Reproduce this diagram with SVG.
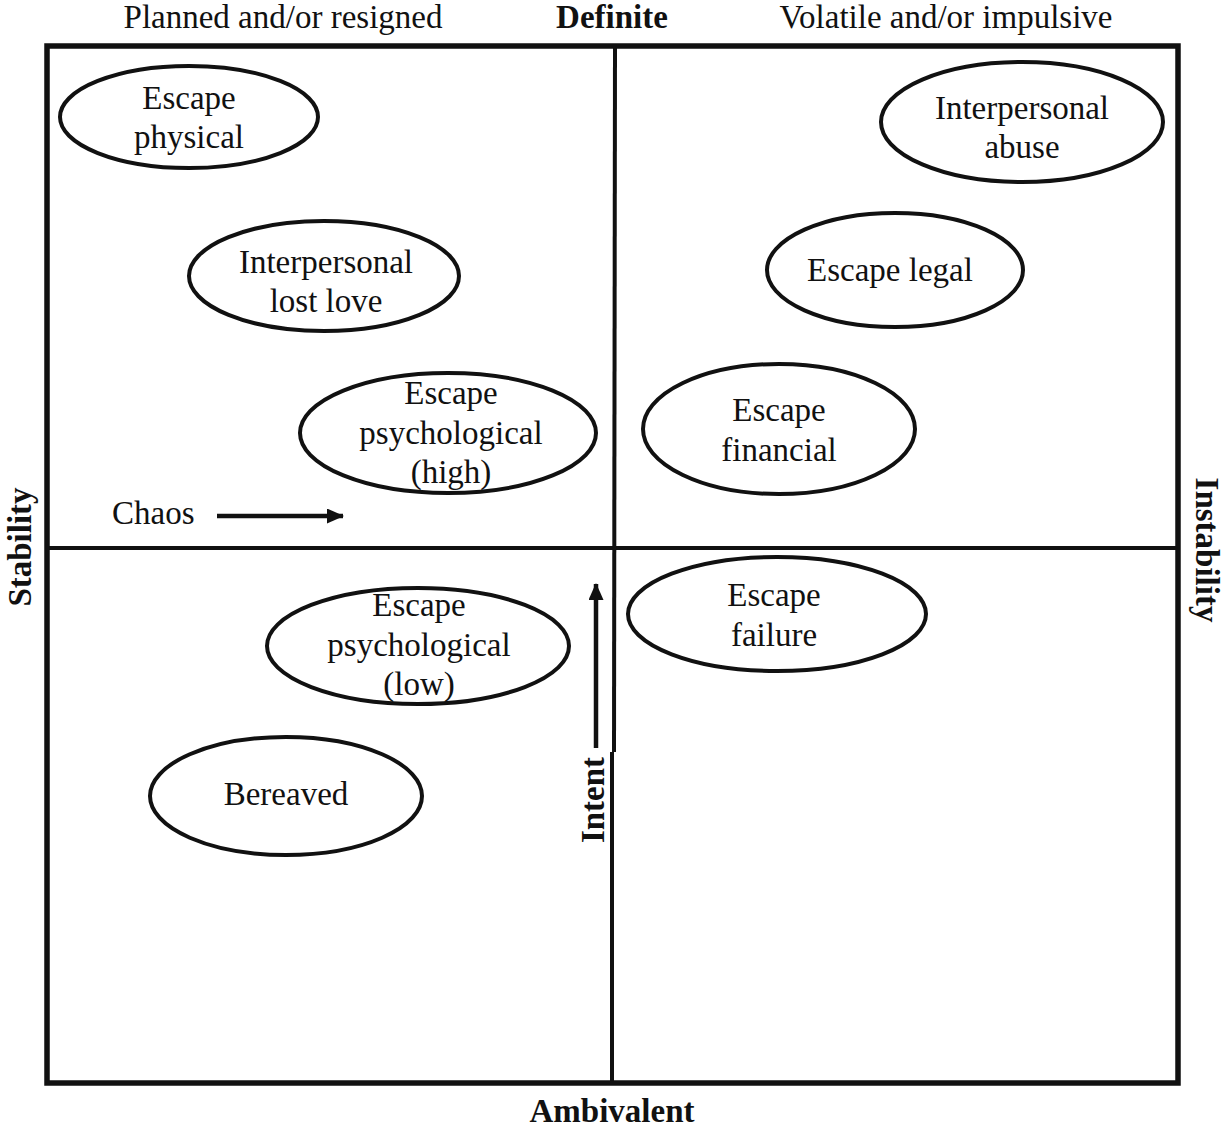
<svg xmlns="http://www.w3.org/2000/svg" width="1225" height="1130" viewBox="0 0 1225 1130">
<style>
text{font-family:"Liberation Serif","Times New Roman",serif;font-size:33px;fill:#111;}
.b{font-weight:bold;}
.n{fill:#fff;stroke:#111;stroke-width:4;}
.ax{stroke:#111;stroke-width:4;fill:none;}
</style>
<defs>
<marker id="ah2" markerWidth="17" markerHeight="15" refX="16" refY="7.5" orient="auto" markerUnits="userSpaceOnUse" viewBox="0 0 17 15">
<path d="M0,0 L17,7.5 L0,15 Z" fill="#111"/>
</marker>
</defs>
<rect width="1225" height="1130" fill="#fff"/>
<g id="frame">
<rect x="47" y="46" width="1131" height="1037" fill="none" stroke="#111" stroke-width="5.5"/>
<line x1="47" y1="548" x2="1178" y2="548" class="ax"/>
<line x1="615" y1="46" x2="614" y2="752" class="ax"/>
<line x1="612" y1="752" x2="612" y2="1083" class="ax"/>
</g>
<g id="labels">
<text x="283" y="28" text-anchor="middle">Planned and/or resigned</text>
<text x="612" y="28" text-anchor="middle" class="b">Definite</text>
<text x="946" y="28" text-anchor="middle">Volatile and/or impulsive</text>
<text x="612" y="1122" text-anchor="middle" class="b">Ambivalent</text>
<text transform="translate(31,547) rotate(-90)" text-anchor="middle" class="b">Stability</text>
<text transform="translate(1196,550) rotate(90)" text-anchor="middle" class="b">Instability</text>
<text transform="translate(604,800) rotate(-90)" text-anchor="middle" class="b">Intent</text>
<text x="112" y="524">Chaos</text>
</g>
<g id="connectors">
<line x1="217" y1="516" x2="343" y2="516" stroke="#111" stroke-width="4.5" marker-end="url(#ah2)"/>
<line x1="596" y1="748" x2="596" y2="584" stroke="#111" stroke-width="4.5" marker-end="url(#ah2)"/>
</g>
<g id="escape-physical"><ellipse class="n" cx="189" cy="117" rx="129" ry="51"/><text x="189" y="109" text-anchor="middle">Escape</text><text x="189" y="148" text-anchor="middle">physical</text></g>
<g id="interpersonal-abuse"><ellipse class="n" cx="1022" cy="122" rx="141" ry="60"/><text x="1022" y="119" text-anchor="middle">Interpersonal</text><text x="1022" y="158" text-anchor="middle">abuse</text></g>
<g id="interpersonal-lost-love"><ellipse class="n" cx="324" cy="276" rx="135" ry="55"/><text x="326" y="273" text-anchor="middle">Interpersonal</text><text x="326" y="312" text-anchor="middle">lost love</text></g>
<g id="escape-legal"><ellipse class="n" cx="895" cy="270" rx="128" ry="57"/><text x="890" y="281" text-anchor="middle">Escape legal</text></g>
<g id="escape-psych-high"><ellipse class="n" cx="448" cy="433" rx="148" ry="60"/><text x="451" y="404" text-anchor="middle">Escape</text><text x="451" y="444" text-anchor="middle">psychological</text><text x="451" y="483" text-anchor="middle">(high)</text></g>
<g id="escape-financial"><ellipse class="n" cx="779" cy="429" rx="136" ry="65"/><text x="779" y="421" text-anchor="middle">Escape</text><text x="779" y="461" text-anchor="middle">financial</text></g>
<g id="escape-failure"><ellipse class="n" cx="777" cy="614" rx="149" ry="57"/><text x="774" y="606" text-anchor="middle">Escape</text><text x="774" y="646" text-anchor="middle">failure</text></g>
<g id="escape-psych-low"><ellipse class="n" cx="418" cy="646" rx="151" ry="58"/><text x="419" y="616" text-anchor="middle">Escape</text><text x="419" y="656" text-anchor="middle">psychological</text><text x="419" y="695" text-anchor="middle">(low)</text></g>
<g id="bereaved"><ellipse class="n" cx="286" cy="796" rx="136" ry="59"/><text x="286" y="805" text-anchor="middle">Bereaved</text></g>
</svg>
